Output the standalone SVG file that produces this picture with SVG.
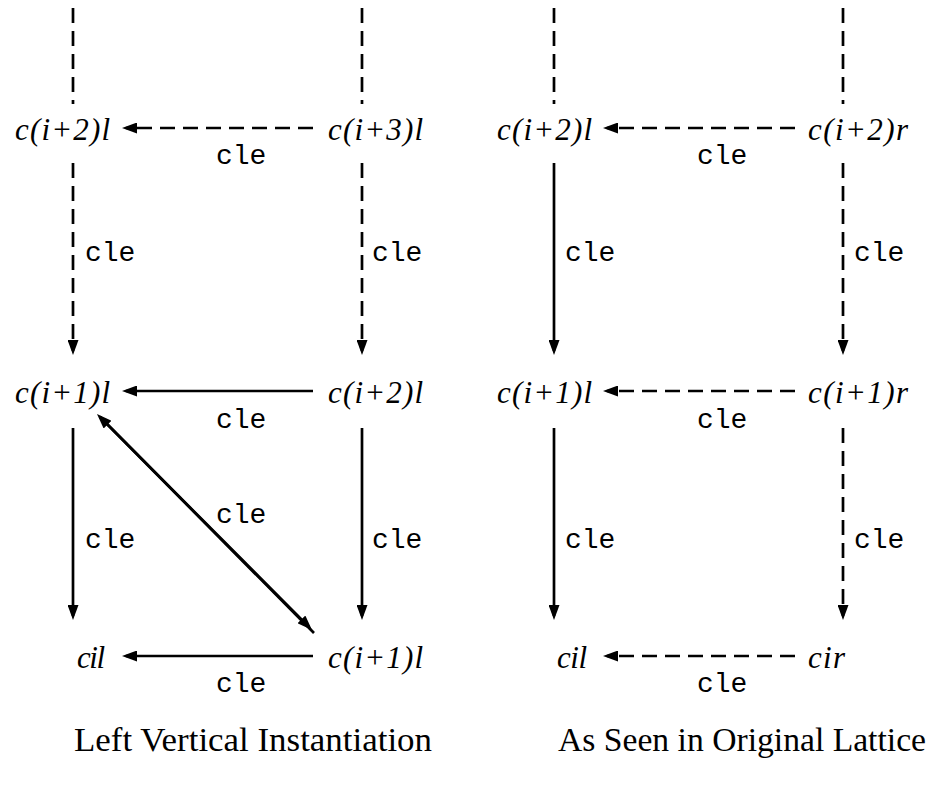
<svg xmlns="http://www.w3.org/2000/svg" width="930" height="787" viewBox="0 0 930 787">
<style>
.n{font-family:"Liberation Serif",serif;font-style:italic;font-size:31px;fill:#000}
.e{font-family:"Liberation Mono",monospace;font-size:28px;fill:#000}
.cap{font-family:"Liberation Serif",serif;font-size:33px;fill:#000}
.s{stroke:#000;stroke-width:2.7;fill:none}
.d{stroke:#000;stroke-width:2.7;fill:none;stroke-dasharray:15 8}
.a{marker-end:url(#ah)}
</style>
<defs>
<marker id="ah" markerUnits="userSpaceOnUse" markerWidth="15" markerHeight="11" refX="11" refY="5.5" orient="auto-start-reverse" viewBox="0 0 15 11">
<path d="M0,0 L15,5.5 L0,11 z" fill="#000"/>
</marker>
</defs>
<rect width="930" height="787" fill="#fff"/>
<g id="connectors">
<line class="d" x1="73" y1="8" x2="73" y2="104"/>
<line class="d" x1="362" y1="8" x2="362" y2="104"/>
<line class="d a" x1="313" y1="128" x2="126" y2="128"/>
<line class="d a" x1="73" y1="163" x2="73" y2="351"/>
<line class="d a" x1="362" y1="163" x2="362" y2="351"/>
<line class="s a" x1="313" y1="391" x2="126" y2="391"/>
<line class="s a" x1="73" y1="428" x2="73" y2="616"/>
<line class="s a" x1="362" y1="428" x2="362" y2="616"/>
<line class="s a" x1="313" y1="656" x2="126" y2="656"/>
<line class="s" x1="99.8" y1="416.8" x2="314" y2="633" marker-start="url(#ah)"/>
<line class="s a" x1="99.8" y1="416.8" x2="309.2" y2="627.2"/>
<line class="d" x1="554" y1="8" x2="554" y2="104"/>
<line class="d" x1="843" y1="8" x2="843" y2="104"/>
<line class="d a" x1="795" y1="128" x2="607" y2="128"/>
<line class="s a" x1="554" y1="163" x2="554" y2="351"/>
<line class="d a" x1="843" y1="163" x2="843" y2="351"/>
<line class="d a" x1="795" y1="391" x2="607" y2="391"/>
<line class="s a" x1="554" y1="428" x2="554" y2="616"/>
<line class="d a" x1="843" y1="428" x2="843" y2="616"/>
<line class="d a" x1="795" y1="656" x2="607" y2="656"/>
<text class="e" x="216" y="164">cle</text>
<text class="e" x="85" y="261">cle</text>
<text class="e" x="372" y="261">cle</text>
<text class="e" x="216" y="428">cle</text>
<text class="e" x="216" y="523">cle</text>
<text class="e" x="85" y="548">cle</text>
<text class="e" x="372" y="548">cle</text>
<text class="e" x="216" y="692">cle</text>
<text class="e" x="697" y="164">cle</text>
<text class="e" x="565" y="261">cle</text>
<text class="e" x="854" y="261">cle</text>
<text class="e" x="697" y="428">cle</text>
<text class="e" x="565" y="548">cle</text>
<text class="e" x="854" y="548">cle</text>
<text class="e" x="697" y="692">cle</text>
</g>
<g id="L_c2l"><text class="n" x="15" y="140" textLength="95" lengthAdjust="spacing">c(i+2)l</text></g>
<g id="L_c3l"><text class="n" x="328" y="140" textLength="95" lengthAdjust="spacing">c(i+3)l</text></g>
<g id="L_c1l"><text class="n" x="15" y="403" textLength="95" lengthAdjust="spacing">c(i+1)l</text></g>
<g id="L_c2l_b"><text class="n" x="328" y="403" textLength="95" lengthAdjust="spacing">c(i+2)l</text></g>
<g id="L_cil"><text class="n" x="77" y="668" textLength="28" lengthAdjust="spacing">cil</text></g>
<g id="L_c1l_b"><text class="n" x="328" y="668" textLength="95" lengthAdjust="spacing">c(i+1)l</text></g>
<g id="R_c2l"><text class="n" x="497" y="140" textLength="95" lengthAdjust="spacing">c(i+2)l</text></g>
<g id="R_c2r"><text class="n" x="808" y="140" textLength="100" lengthAdjust="spacing">c(i+2)r</text></g>
<g id="R_c1l"><text class="n" x="497" y="403" textLength="95" lengthAdjust="spacing">c(i+1)l</text></g>
<g id="R_c1r"><text class="n" x="808" y="403" textLength="100" lengthAdjust="spacing">c(i+1)r</text></g>
<g id="R_cil"><text class="n" x="557" y="668" textLength="30" lengthAdjust="spacing">cil</text></g>
<g id="R_cir"><text class="n" x="808" y="668" textLength="37" lengthAdjust="spacing">cir</text></g>
<g id="captions">
<text class="cap" x="74" y="751" textLength="358" lengthAdjust="spacingAndGlyphs">Left Vertical Instantiation</text>
<text class="cap" x="558" y="751" textLength="368" lengthAdjust="spacingAndGlyphs">As Seen in Original Lattice</text>
</g>
</svg>
